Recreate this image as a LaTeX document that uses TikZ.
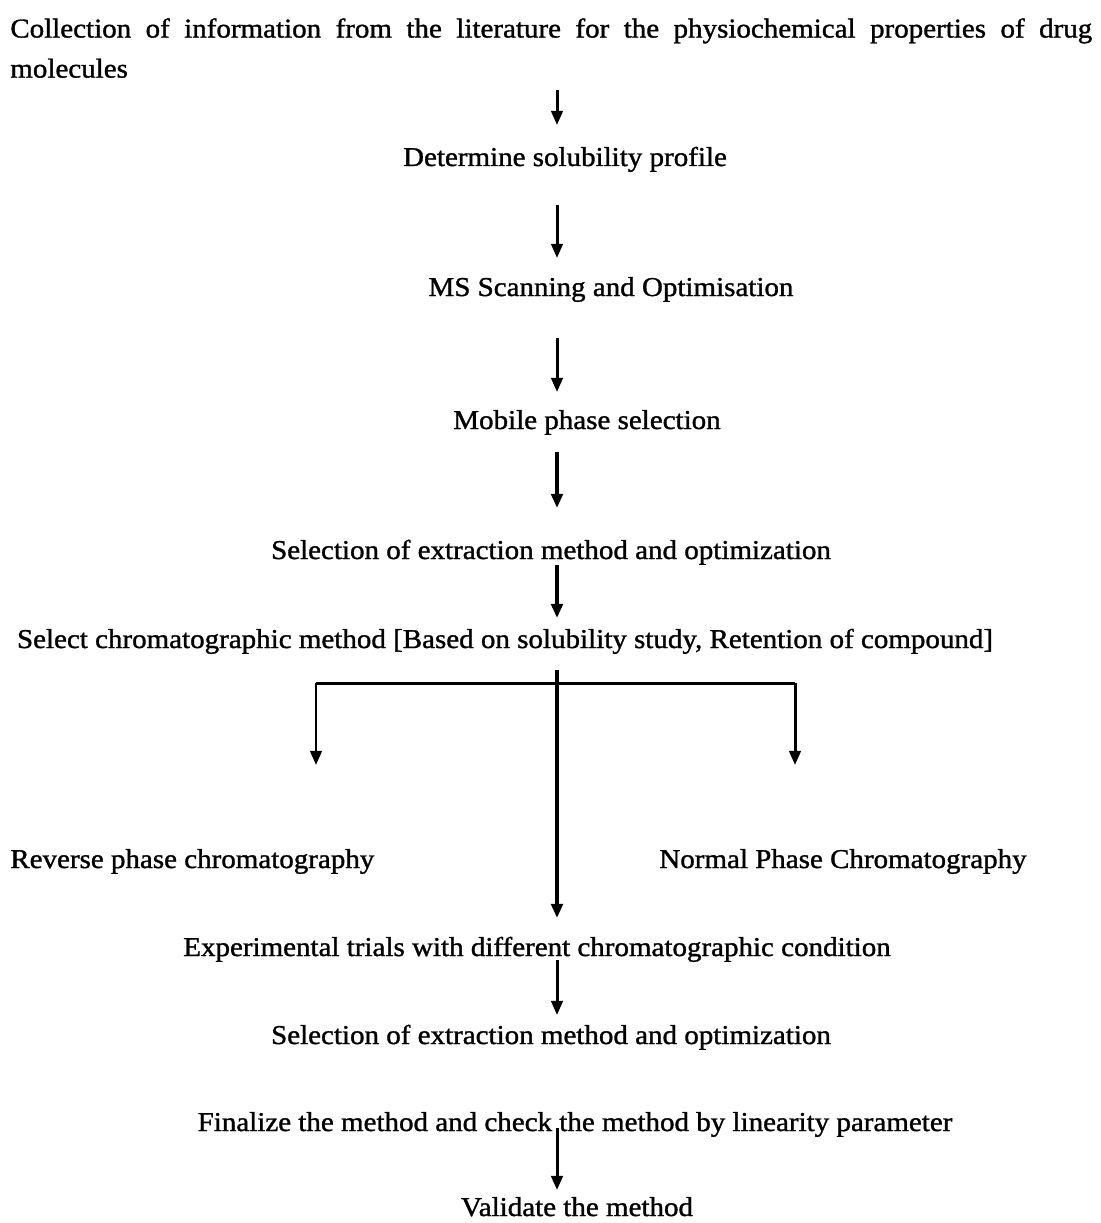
\documentclass[tikz,border=0pt]{standalone}
\usepackage{fontspec}
\setmainfont{Liberation Serif}[FakeStretch=1.065,FakeBold=1.2]
\usetikzlibrary{arrows.meta}
\begin{document}
\begin{tikzpicture}[x=0.02cm,y=-0.02cm,
  lbl/.style={inner sep=0pt,anchor=base,font=\fontsize{15.5}{18}\selectfont},
  arr/.style={line width=1.7pt,-{Triangle[length=8pt,width=6.5pt]}},
  thick arr/.style={arr,line width=2.4pt},
  ln/.style={line width=1.7pt}]
\useasboundingbox[fill=white] (0,0) rectangle (1101,1223);
\coordinate (spine) at (557,0);
\node[lbl,anchor=north west,text width=21.64cm,align=justify,
  font=\fontsize{15.5}{22.8}\selectfont] (n1) at (10,18)
  {Collection of information from the literature for the physiochemical properties of drug molecules};
\node[lbl] (n2) at (565,166) {Determine solubility profile};
\node[lbl] (n3) at (611,296) {MS Scanning and Optimisation};
\node[lbl] (n4) at (587,429) {Mobile phase selection};
\node[lbl] (n5) at (551,559) {Selection of extraction method and optimization};
\node[lbl] (n6) at (505,648) {Select chromatographic method [Based on solubility study, Retention of compound]};
\node[lbl,anchor=base west] (rp) at (10,868) {Reverse phase chromatography};
\node[lbl,anchor=base east] (np) at (1027,868) {Normal Phase Chromatography};
\node[lbl] (n7) at (537,956) {Experimental trials with different chromatographic condition};
\node[lbl] (n8) at (551,1044) {Selection of extraction method and optimization};
\node[lbl] (n9) at (575,1131) {Finalize the method and check the method by linearity parameter};
\node[lbl] (n10) at (577,1216) {Validate the method};
\coordinate (bl) at (316,683);
\coordinate (br) at (795,683);
\coordinate (rpt) at (316,765);
\coordinate (npt) at (795,765);
\draw[arr] (spine |- 0,90) -- (spine |- 0,125);
\draw[arr] (spine |- 0,205) -- (spine |- 0,258);
\draw[arr] (spine |- 0,338) -- (spine |- 0,392);
\draw[thick arr] (spine |- 0,452) -- (spine |- 0,508);
\draw[thick arr] (spine |- 0,565) -- (spine |- 0,618);
\draw[thick arr] (spine |- 0,670) -- (spine |- 0,918);
\draw[ln] (bl) -- (br);
\draw[arr] (bl) -- (rpt);
\draw[arr] (br) -- (npt);
\draw[arr] (spine |- 0,960) -- (spine |- 0,1015);
\draw[arr] (spine |- 0,1128) -- (spine |- 0,1190);
\end{tikzpicture}
\end{document}
